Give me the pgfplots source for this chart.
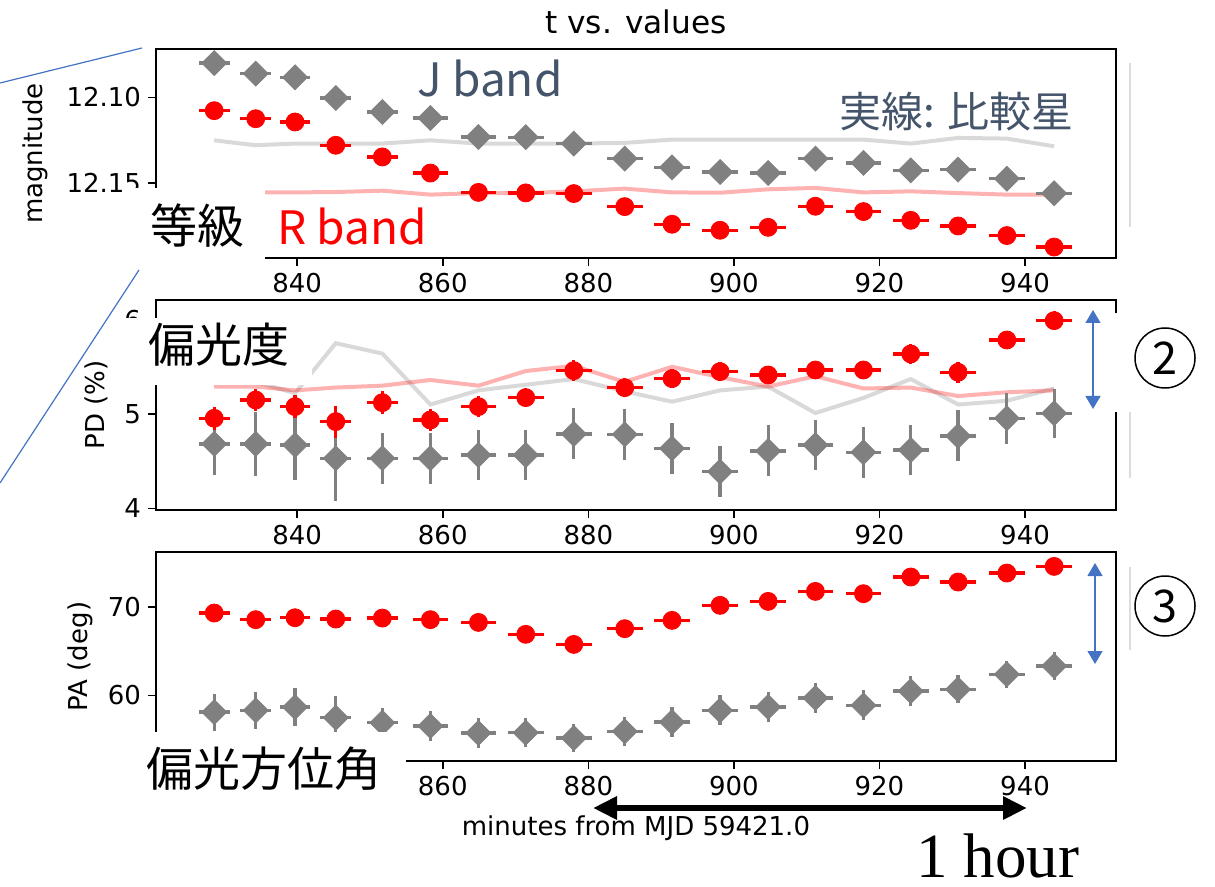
\documentclass[border=0pt]{standalone}
\usepackage{pgfplots}
\pgfplotsset{compat=1.18}
\usepackage{pgfplotstable}
\usepackage{fontspec}
\setmainfont{DejaVu Sans}
\newfontfamily\jp{Noto Sans CJK JP}
\newfontfamily\tmsfont{Liberation Serif}
\usetikzlibrary{arrows.meta}

\definecolor{obsred}{HTML}{FF0000}
\definecolor{obsgray}{HTML}{808080}
\definecolor{slate}{HTML}{44546A}
\definecolor{accent}{HTML}{4472C4}
\definecolor{faint}{HTML}{DCDCDC}

% magnitudes: target in J and R, comparison star (Jc, Rc); et = half exposure (min)
\pgfplotstableread{
t      et    J        R        Jc       Rc
828.6  2.10  12.0800  12.1078  12.1251  12.1555
834.3  2.10  12.0862  12.1125  12.1280  12.1555
839.7  2.10  12.0883  12.1144  12.1270  12.1555
845.3  2.10  12.1004  12.1280  12.1270  12.1553
851.7  2.10  12.1086  12.1348  12.1270  12.1545
858.3  2.45  12.1121  12.1442  12.1251  12.1568
864.9  2.45  12.1232  12.1555  12.1270  12.1559
871.4  2.45  12.1233  12.1558  12.1270  12.1559
878.0  2.45  12.1270  12.1562  12.1270  12.1549
885.0  2.45  12.1358  12.1638  12.1266  12.1533
891.5  2.45  12.1409  12.1741  12.1247  12.1555
898.1  2.45  12.1436  12.1776  12.1247  12.1557
904.7  2.45  12.1442  12.1759  12.1247  12.1537
911.2  2.45  12.1358  12.1636  12.1247  12.1529
917.8  2.45  12.1383  12.1667  12.1247  12.1555
924.3  2.45  12.1426  12.1718  12.1270  12.1549
930.8  2.45  12.1422  12.1751  12.1237  12.1559
937.5  2.45  12.1475  12.1807  12.1241  12.1568
944.0  2.45  12.1560  12.1874  12.1286  12.1568
}\magtab

% polarization degree (%)
\pgfplotstableread{
t      et    J      eJ    R      eR    Jc    Rc
828.6  2.10  4.682  0.33  4.954  0.12  5.40  5.29
834.3  2.10  4.682  0.34  5.148  0.12  5.34  5.29
839.7  2.10  4.671  0.37  5.078  0.12  5.22  5.25
845.3  2.10  4.530  0.45  4.919  0.17  5.75  5.28
851.7  2.10  4.530  0.27  5.120  0.12  5.64  5.30
858.3  2.45  4.530  0.27  4.936  0.12  5.10  5.36
864.9  2.45  4.565  0.27  5.078  0.11  5.25  5.30
871.4  2.45  4.565  0.27  5.173  0.10  5.31  5.455
878.0  2.45  4.788  0.27  5.459  0.11  5.37  5.51
885.0  2.45  4.784  0.27  5.279  0.10  5.24  5.34
891.5  2.45  4.636  0.27  5.375  0.10  5.13  5.50
898.1  2.45  4.389  0.27  5.449  0.10  5.25  5.39
904.7  2.45  4.608  0.27  5.413  0.10  5.29  5.29
911.2  2.45  4.671  0.27  5.466  0.10  5.01  5.40
917.8  2.45  4.594  0.27  5.466  0.10  5.17  5.27
924.3  2.45  4.618  0.27  5.636  0.11  5.37  5.28
930.8  2.45  4.767  0.27  5.442  0.11  5.10  5.19
937.5  2.45  4.954  0.27  5.784  0.10  5.14  5.23
944.0  2.45  5.007  0.26  5.989  0.10  5.27  5.25
}\pdtab

% polarization angle (deg)
\pgfplotstableread{
t      et    J      eJ    R
828.6  2.10  58.11  2.10  69.32
834.3  2.10  58.30  2.10  68.57
839.7  2.10  58.68  2.20  68.79
845.3  2.10  57.47  2.50  68.64
851.7  2.10  56.91  1.70  68.75
858.3  2.45  56.53  1.70  68.57
864.9  2.45  55.74  1.65  68.26
871.4  2.45  55.77  1.65  66.91
878.0  2.45  55.17  1.60  65.77
885.0  2.45  55.92  1.60  67.55
891.5  2.45  56.98  1.70  68.49
898.1  2.45  58.30  1.70  70.19
904.7  2.45  58.68  1.70  70.64
911.2  2.45  59.70  1.65  71.77
917.8  2.45  58.87  1.70  71.51
924.3  2.45  60.49  1.65  73.40
930.8  2.45  60.68  1.60  72.83
937.5  2.45  62.38  1.55  73.85
944.0  2.45  63.32  1.55  74.60
}\patab

\newcommand\lbl{\fontsize{13}{15}\selectfont}

\pgfplotsset{
  panel/.style={
    scale only axis, width=480pt, anchor=center, clip=false,
    xmin=820.6, xmax=952.5,
    axis line style={line width=0.8pt},
    tick align=outside, tick pos=left,
    major tick length=4pt,
    every tick/.style={black, line width=0.8pt},
    xtick={840,860,880,900,920,940},
    xticklabels={840,860,880,900,920,940},
    tick label style={font=\lbl},
    every axis y label/.style={at={(axis description cs:#1,0.5)}, rotate=90, anchor=center, font=\lbl},
  },
  redpts/.style={only marks, mark=*, mark size=4.5pt, color=obsred},
  graypts/.style={only marks, mark=square*, mark size=4.4pt, mark options={rotate=45}, color=obsgray},
  errs/.style={error bars/.cd, x dir=both, x explicit, error mark=none,
    error bar style={line width=1.6pt, #1}},
  yerrs/.style={error bars/.cd, x dir=both, x explicit, y dir=both, y explicit, error mark=none,
    error bar style={line width=1.6pt, #1}},
  compline/.style={no marks, line width=2pt, #1, opacity=0.3},
}

\begin{document}
\begin{tikzpicture}
\path[use as bounding box] (0,0) rectangle (607.5pt,-443.5pt);

% ---- magnitude ----
\begin{axis}[panel=-0.126, at={(318pt,-76.75pt)}, height=104.5pt,
  ymin=12.0718, ymax=12.1938, y dir=reverse,
  ytick={12.10,12.15}, yticklabels={12.10,12.15},
  ylabel={magnitude},
  title={t vs. values},
  every axis title/.style={at={(axis description cs:0.5,1.13)}, anchor=center, font=\fontsize{15.6}{18}\selectfont}]
\addplot[compline=obsgray] table[x=t, y=Jc] \magtab;
\addplot[compline=obsred] table[x=t, y=Rc] \magtab;
\addplot[graypts, errs=obsgray] table[x=t, y=J, x error=et] \magtab;
\addplot[redpts, errs=obsred] table[x=t, y=R, x error=et] \magtab;
\end{axis}

% ---- polarization degree ----
\begin{axis}[panel=-0.0625, at={(318pt,-202.5pt)}, height=105pt,
  ymin=3.982, ymax=6.208,
  ytick={4,5,6}, yticklabels={4,5,6},
  ylabel={PD (\%)}]
\addplot[compline=obsgray] table[x=t, y=Jc] \pdtab;
\addplot[compline=obsred] table[x=t, y=Rc] \pdtab;
\addplot[graypts, yerrs=obsgray] table[x=t, y=J, x error=et, y error=eJ] \pdtab;
\addplot[redpts, yerrs=obsred] table[x=t, y=R, x error=et, y error=eR] \pdtab;
\end{axis}

% ---- polarization angle ----
\begin{axis}[panel=-0.079, at={(318pt,-328.25pt)}, height=104.5pt,
  ymin=52.57, ymax=76.23,
  ytick={60,70}, yticklabels={60,70},
  xticklabels={,860,880,900,920,940},
  ylabel={PA (deg)},
  xlabel={minutes from MJD 59421.0},
  xlabel style={at={(axis description cs:0.5,-0.32)}, anchor=center, font=\lbl}]
\addplot[graypts, yerrs=obsgray] table[x=t, y=J, x error=et, y error=eJ] \patab;
\addplot[redpts, errs=obsred] table[x=t, y=R, x error=et] \patab;
\end{axis}

% ---- callouts, in pixel units from the top-left corner ----
\begin{scope}[x=0.5pt, y=-0.5pt]
  \fill[white] (126,188) rectangle (265,272);
  \fill[white] (126,318) rectangle (312,385);
  \fill[white] (126,732) rectangle (406,812);
  \fill[white] (1080,313) rectangle (1215,412);

  \draw[accent, line width=0.6pt] (0,83) -- (142,48);
  \draw[accent, line width=0.6pt] (0,483) -- (139,270);

  \draw[faint, line width=1pt] (1130,63) -- (1130,227);
  \draw[faint, line width=1pt] (1130,412) -- (1130,478);
  \draw[faint, line width=1pt] (1130,567) -- (1130,650);

  \node[anchor=base west, inner sep=0, text=slate, font={\jp\fontsize{23}{27}\selectfont}] at (417,97) {J band};
  \node[anchor=base west, inner sep=0, text=obsred, font={\jp\fontsize{23}{27}\selectfont}] at (277,245) {R band};
  \node[anchor=west, inner sep=0, text=slate, font={\jp\fontsize{21}{25}\selectfont}] at (839,111.5) {実線: 比較星};

  \node[anchor=west, inner sep=0, font={\jp\fontsize{23.5}{28}\selectfont}] at (150,225.5) {等級};
  \node[anchor=west, inner sep=0, font={\jp\fontsize{23.5}{28}\selectfont}] at (148,345) {偏光度};
  \node[anchor=west, inner sep=0, font={\jp\fontsize{23.5}{28}\selectfont}] at (146,769) {偏光方位角};

  \draw[accent, line width=0.6pt, {Triangle[length=6.5pt,width=7.5pt]}-{Triangle[length=6.5pt,width=7.5pt]}] (1093,310) -- (1093,409);
  \draw[accent, line width=0.6pt, {Triangle[length=6.5pt,width=7.5pt]}-{Triangle[length=6.5pt,width=7.5pt]}] (1095,563) -- (1095,664);

  \node[draw, circle, line width=0.75pt, minimum size=30pt, inner sep=0, font={\jp\fontsize{22.5}{26}\selectfont}] at (1165,358) {2};
  \node[draw, circle, line width=0.75pt, minimum size=30pt, inner sep=0, font={\jp\fontsize{22.5}{26}\selectfont}] at (1165,606) {3};

  \draw[black, line width=3pt, {Triangle[length=12pt,width=11pt]}-{Triangle[length=12pt,width=11pt]}] (593,808) -- (1027,808);
  \node[anchor=base west, inner sep=0, font={\tmsfont\fontsize{31.5}{36}\selectfont}] at (916,877) {1 hour};
\end{scope}
\end{tikzpicture}
\end{document}
